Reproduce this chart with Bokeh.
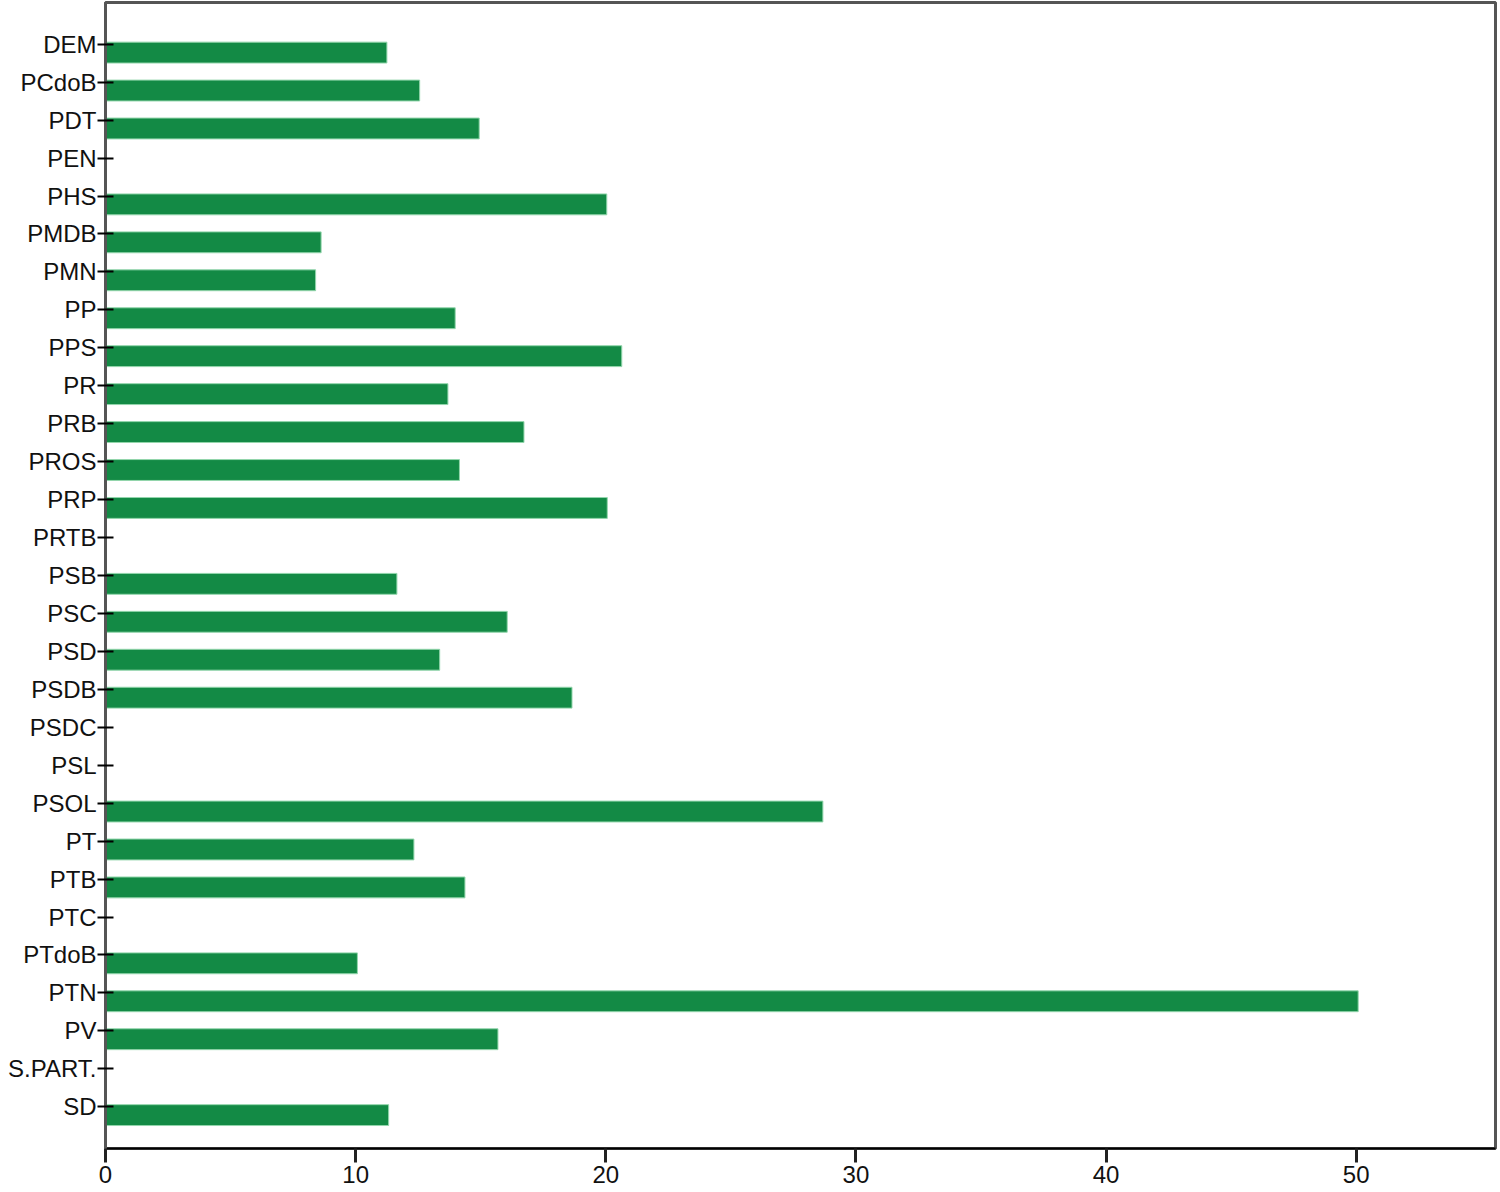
from bokeh.plotting import figure
from bokeh.models import FactorRange, ColumnDataSource, FixedTicker
from bokeh.transform import dodge
from bokeh.embed import file_html
from bokeh.resources import INLINE

parties = ["DEM", "PCdoB", "PDT", "PEN", "PHS", "PMDB", "PMN", "PP", "PPS", "PR",
           "PRB", "PROS", "PRP", "PRTB", "PSB", "PSC", "PSD", "PSDB", "PSDC", "PSL",
           "PSOL", "PT", "PTB", "PTC", "PTdoB", "PTN", "PV", "S.PART.", "SD"]
values = [11.25, 12.56, 14.94, 0, 20.04, 8.62, 8.40, 13.98, 20.64, 13.69,
          16.73, 14.15, 20.06, 0, 11.65, 16.06, 13.36, 18.65, 0, 0,
          28.68, 12.33, 14.37, 0, 10.07, 50.08, 15.69, 0, 11.32]
x_ticks = [0, 10, 20, 30, 40, 50]

source = ColumnDataSource(dict(party=parties, value=values))

y_range = FactorRange(factors=list(reversed(parties)), range_padding=0.6,
                      range_padding_units="absolute")

p = figure(width=1498, height=1190, y_range=y_range, x_range=(0, 55.57),
           output_backend="svg", toolbar_location=None,
           min_border_left=105, min_border_right=3, min_border_top=2,
           min_border_bottom=42)

p.hbar(y=dodge("party", -0.22, range=p.y_range), left=0, right="value",
       height=0.55, source=source, fill_color="#138A45",
       line_color="#93D6AC", line_width=1)

p.xgrid.visible = False
p.ygrid.visible = False
p.background_fill_color = "white"
p.border_fill_color = "white"
p.outline_line_color = "#555555"
p.outline_line_width = 3

font = "Liberation Sans"

p.yaxis.axis_line_color = "#555555"
p.yaxis.axis_line_width = 3
p.yaxis.major_tick_in = 8
p.yaxis.major_tick_out = 8
p.yaxis.major_tick_line_color = "black"
p.yaxis.major_tick_line_width = 2
p.yaxis.major_label_text_font = font
p.yaxis.major_label_text_font_size = "24px"
p.yaxis.major_label_text_color = "#111111"
p.yaxis.major_label_standoff = 1

p.xaxis.ticker = FixedTicker(ticks=x_ticks)
p.xaxis.axis_line_color = "black"
p.xaxis.axis_line_width = 2
p.xaxis.major_tick_in = 0
p.xaxis.major_tick_out = 14
p.xaxis.major_tick_line_color = "#222222"
p.xaxis.major_tick_line_width = 3
p.xaxis.minor_tick_line_color = None
p.xaxis.major_label_text_font = font
p.xaxis.major_label_text_font_size = "24px"
p.xaxis.major_label_text_color = "#111111"
p.xaxis.major_label_standoff = 3

open("out.html", "w").write(file_html(p, INLINE))
